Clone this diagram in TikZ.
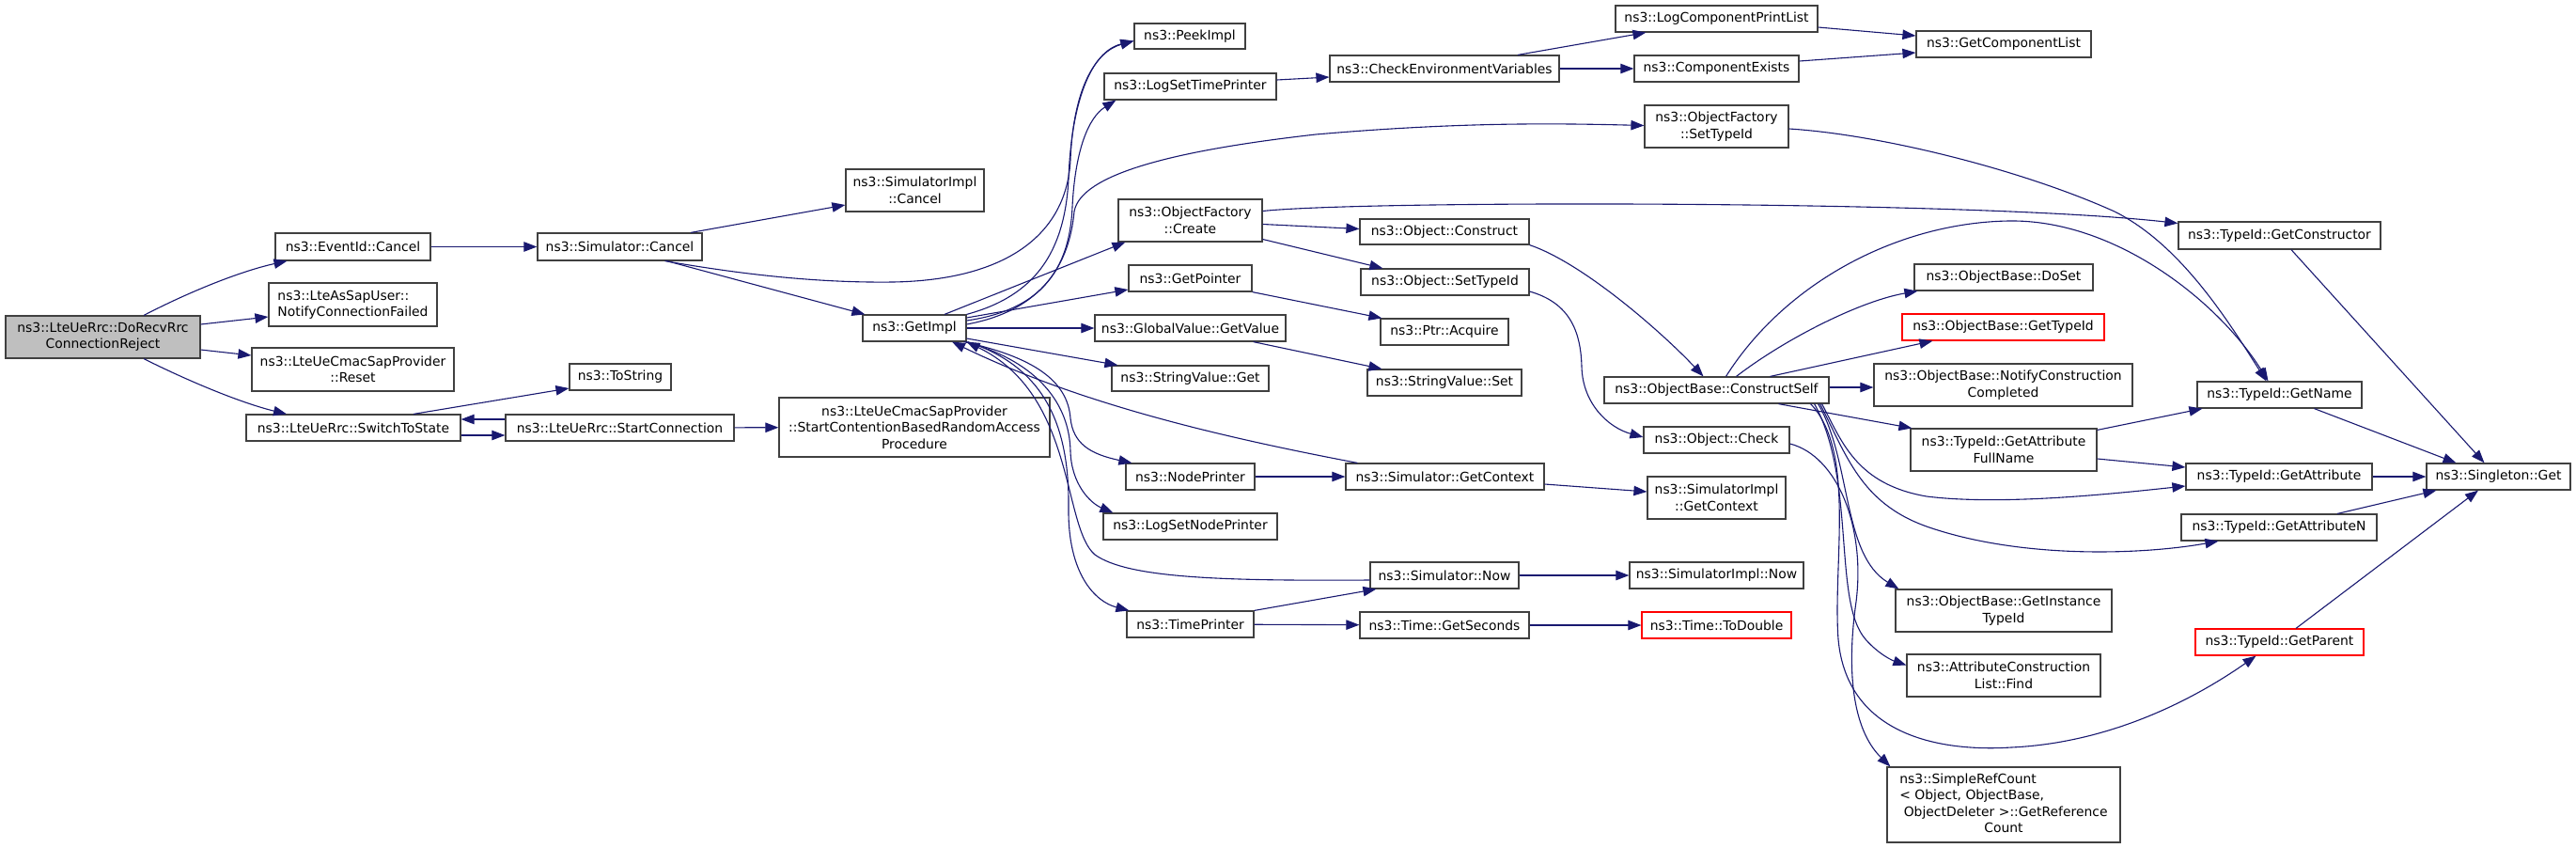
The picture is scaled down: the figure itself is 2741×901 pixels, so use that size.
\documentclass[tikz,border=0pt]{standalone}
\usepackage{fontspec}
\setmainfont{DejaVu Sans}
\usetikzlibrary{arrows.meta,calc}
\definecolor{edgeblue}{RGB}{25,25,112}
\definecolor{rootgray}{RGB}{191,191,191}
\definecolor{nborder}{RGB}{64,64,64}
\newcommand\gnode[7][]{\node[box,#1,minimum width=#5*0.5pt,minimum height=#6*0.5pt] (#2) at (#3,#4) {#7};}
\begin{document}
\begin{tikzpicture}[x=0.5pt,y=-0.5pt,
  box/.style={draw=nborder,line width=0.6pt,fill=white,inner sep=0pt,align=center,font=\fontsize{6.95}{8.7}\selectfont},
  redbox/.style={draw=red},
  rootbox/.style={fill=rootgray},
  call/.style={draw=edgeblue,line width=0.55pt,-{Triangle[length=7pt,width=5.2pt]}}]
\useasboundingbox (0,0) rectangle (2741,901);
% nodes
\gnode[rootbox]{root}{109.5}{358.5}{207}{45}{ns3::LteUeRrc::DoRecvRrc\\ConnectionReject}
\gnode{evcancel}{375.5}{262.5}{165}{29}{ns3::EventId::Cancel}
\gnode[align=left]{asapuser}{375.5}{324}{179}{46}{ns3::LteAsSapUser::\\NotifyConnectionFailed}
\gnode{cmacreset}{375.5}{393}{215}{46}{ns3::LteUeCmacSapProvider\\::Reset}
\gnode{switch}{376}{455}{228}{28}{ns3::LteUeRrc::SwitchToState}
\gnode{simcancel}{659.5}{262.5}{175}{29}{ns3::Simulator::Cancel}
\gnode{simimplcancel}{973.5}{202.5}{147}{45}{ns3::SimulatorImpl\\::Cancel}
\gnode{tostring}{660}{401}{108}{28}{ns3::ToString}
\gnode{startconn}{659.5}{455}{243}{28}{ns3::LteUeRrc::StartConnection}
\gnode{startcont}{973}{454.5}{288}{63}{ns3::LteUeCmacSapProvider\\::StartContentionBasedRandomAccess\\Procedure}
\gnode{peekimpl}{1266}{38.5}{118}{27}{ns3::PeekImpl}
\gnode{logsettime}{1266.5}{92}{183}{28}{ns3::LogSetTimePrinter}
\gnode{getimpl}{973}{349}{110}{28}{ns3::GetImpl}
\gnode{ofcreate}{1266.5}{234.5}{153}{45}{ns3::ObjectFactory\\::Create}
\gnode{getpointer}{1266.5}{296}{131}{28}{ns3::GetPointer}
\gnode{gvgetvalue}{1266.5}{349}{203}{28}{ns3::GlobalValue::GetValue}
\gnode{svget}{1266.5}{402.5}{167}{27}{ns3::StringValue::Get}
\gnode{nodeprinter}{1266.5}{507}{137}{28}{ns3::NodePrinter}
\gnode{logsetnode}{1266.5}{560}{185}{28}{ns3::LogSetNodePrinter}
\gnode{timeprinter}{1266.5}{664}{135}{28}{ns3::TimePrinter}
\gnode{logcomp}{1826.5}{20}{215}{28}{ns3::LogComponentPrintList}
\gnode{checkenv}{1537}{73}{244}{28}{ns3::CheckEnvironmentVariables}
\gnode{compexists}{1826.5}{73}{175}{28}{ns3::ComponentExists}
\gnode{ofsettypeid}{1826.5}{134.5}{153}{45}{ns3::ObjectFactory\\::SetTypeId}
\gnode{objconstruct}{1537}{246.5}{180}{27}{ns3::Object::Construct}
\gnode{objsettypeid}{1537.5}{300}{179}{28}{ns3::Object::SetTypeId}
\gnode{ptracquire}{1537}{353}{136}{28}{ns3::Ptr::Acquire}
\gnode{svset}{1537}{407}{164}{28}{ns3::StringValue::Set}
\gnode{constructself}{1826.5}{415}{239}{28}{ns3::ObjectBase::ConstructSelf}
\gnode{objcheck}{1826.5}{468}{155}{28}{ns3::Object::Check}
\gnode{simgetctx}{1537.5}{507}{211}{28}{ns3::Simulator::GetContext}
\gnode{simimplgetctx}{1826.5}{529.5}{147}{45}{ns3::SimulatorImpl\\::GetContext}
\gnode{simnow}{1537}{612}{158}{28}{ns3::Simulator::Now}
\gnode{simimplnow}{1826.5}{612}{185}{28}{ns3::SimulatorImpl::Now}
\gnode{getseconds}{1537}{665}{180}{28}{ns3::Time::GetSeconds}
\gnode[redbox]{todouble}{1826.5}{665}{159}{28}{ns3::Time::ToDouble}
\gnode{getcomplist}{2132}{47}{186}{28}{ns3::GetComponentList}
\gnode{doset}{2132}{295}{190}{28}{ns3::ObjectBase::DoSet}
\gnode[redbox]{obgettypeid}{2131.5}{348}{215}{28}{ns3::ObjectBase::GetTypeId}
\gnode{notify}{2131.5}{409.5}{275}{45}{ns3::ObjectBase::NotifyConstruction\\Completed}
\gnode{attrfullname}{2132}{478.5}{198}{45}{ns3::TypeId::GetAttribute\\FullName}
\gnode{getinsttypeid}{2132}{649.5}{230}{45}{ns3::ObjectBase::GetInstance\\TypeId}
\gnode{acfind}{2132}{718.5}{206}{45}{ns3::AttributeConstruction\\List::Find}
\gnode{simplerefcount}{2132}{856}{248}{80}{\begin{tabular}{@{}l@{}}ns3::SimpleRefCount\\< Object, ObjectBase,\\\ ObjectDeleter >::GetReference\\\multicolumn{1}{@{}c@{}}{Count}\end{tabular}}
\gnode{getconstructor}{2425.5}{250.5}{215}{29}{ns3::TypeId::GetConstructor}
\gnode{getname}{2425.5}{420}{175}{28}{ns3::TypeId::GetName}
\gnode{getattribute}{2425}{507}{198}{28}{ns3::TypeId::GetAttribute}
\gnode{getattributen}{2425}{561}{208}{28}{ns3::TypeId::GetAttributeN}
\gnode[redbox]{getparent}{2425.5}{683}{179}{28}{ns3::TypeId::GetParent}
\gnode{singleton}{2658.5}{507}{153}{28}{ns3::Singleton::Get}
% edges
\draw[call] ($(root.north)+(43.5,0)$) .. controls (210,306) and (262,287) .. ($(evcancel.south)+(-70,0)$);
\draw[call] ($(root.east)+(0,-13.5)$) -- ($(asapuser.west)+(0,13)$);
\draw[call] ($(root.east)+(0,13.5)$) -- ($(cmacreset.west)+(0,-15)$);
\draw[call] ($(root.south)+(43.5,0)$) .. controls (210,410) and (262,430) .. ($(switch.north)+(-71,0)$);
\draw[call] (evcancel) -- (simcancel);
\draw[call] ($(simcancel.north)+(75.5,0)$) -- ($(simimplcancel.west)+(0,15.5)$);
\draw[call] ($(simcancel.south)+(50,0)$) -- ($(getimpl.north west)+(3,0)$);
\draw[call] ($(simcancel.south)+(48,0)$) .. controls (790,292) and (870,301) .. (950,300) .. controls (1070,298) and (1135,250) .. (1139,170) .. controls (1142,95) and (1165,55) .. ($(peekimpl.west)+(0,5)$);
\draw[call] (getimpl.north east) .. controls (1100,315) and (1133,270) .. (1137,190) .. controls (1140,110) and (1160,55) .. ($(peekimpl.west)+(0,5)$);
\draw[call] ($(getimpl.east)+(0,-8)$) .. controls (1105,330) and (1138,290) .. (1141,220) .. controls (1144,160) and (1158,125) .. ($(logsettime.south west)+(13,0)$);
\draw[call] ($(getimpl.east)+(0,-4)$) .. controls (1110,330) and (1138,280) .. (1143,225) .. controls (1150,185) and (1250,160) .. (1400,143) .. controls (1550,130) and (1650,131) .. ($(ofsettypeid.west)+(0,-1)$);
\draw[call] ($(getimpl.north)+(32,0)$) -- ($(ofcreate.south west)+(8,0)$);
\draw[call] ($(getimpl.east)+(0,-11)$) -- ($(getpointer.west)+(0,12)$);
\draw[call] (getimpl) -- (gvgetvalue);
\draw[call] ($(getimpl.east)+(0,11)$) -- ($(svget.north west)+(7,0)$);
\draw[call] ($(getimpl.south east)+(-3,0)$) .. controls (1100,380) and (1136,405) .. (1139,445) .. controls (1142,472) and (1160,483) .. ($(nodeprinter.north west)+(7,0)$);
\draw[call] ($(getimpl.south east)+(-1,0)$) .. controls (1105,385) and (1138,430) .. (1139,480) .. controls (1140,515) and (1160,535) .. ($(logsetnode.north west)+(11,0)$);
\draw[call] ($(getimpl.south east)+(1,0)$) .. controls (1110,390) and (1138,450) .. (1137,540) .. controls (1136,610) and (1165,640) .. ($(timeprinter.north west)+(3,0)$);
\draw[call] ($(simnow.west)+(0,5)$) .. controls (1300,618) and (1200,615) .. (1165,590) .. controls (1130,560) and (1145,420) .. (getimpl.south east);
\draw[call] ($(simgetctx.north west)+(13,0)$) .. controls (1300,465) and (1150,430) .. ($(getimpl.south)+(40,0)$);
\draw[call] (timeprinter) -- (getseconds);
\draw[call] (timeprinter.north east) -- ($(simnow.south west)+(7,0)$);
\draw[call] (nodeprinter) -- (simgetctx);
\draw[call] (getpointer.south east) -- ($(ptracquire.north west)+(2,0)$);
\draw[call] ($(gvgetvalue.south east)+(-35,0)$) -- ($(svset.north west)+(16,0)$);
\draw[call] ($(logsettime.east)+(0,-7)$) -- ($(checkenv.west)+(0,9)$);
\draw[call] ($(checkenv.north)+(78,0)$) -- ($(logcomp.south west)+(33,0)$);
\draw[call] (checkenv) -- (compexists);
\draw[call] ($(logcomp.east)+(0,9)$) -- ($(getcomplist.west)+(0,-9)$);
\draw[call] ($(compexists.east)+(0,-8)$) -- ($(getcomplist.west)+(0,9)$);
\draw[call] ($(ofcreate.east)+(0,4)$) -- ($(objconstruct.west)+(0,-3)$);
\draw[call] ($(ofcreate.east)+(0,20)$) -- ($(objsettypeid.north west)+(24,0)$);
\draw[call] ($(ofcreate.east)+(0,-10)$) .. controls (1450,213) and (2100,213) .. ($(getconstructor.west)+(0,-13)$);
\draw[call] (objconstruct.south east) .. controls (1685,280) and (1770,355) .. ($(constructself.north)+(-14,0)$);
\draw[call] ($(objsettypeid.east)+(0,10)$) .. controls (1670,322) and (1682,352) .. (1683,390) .. controls (1684,430) and (1712,455) .. ($(objcheck.west)+(0,-3)$);
\draw[call] ($(objcheck.east)+(0,4)$) .. controls (1955,485) and (1985,560) .. (1975,640) .. controls (1965,710) and (1970,775) .. ($(simplerefcount.north west)+(4,0)$);
\draw[call] ($(constructself.south east)+(-12,0)$) .. controls (1970,490) and (1960,590) .. ($(getinsttypeid.north west)+(4,0)$);
\draw[call] ($(constructself.south east)+(-16,0)$) .. controls (1975,510) and (1950,640) .. (1985,680) .. controls (2000,697) and (2015,703) .. ($(acfind.west)+(0,-11)$);
\draw[call] ($(constructself.south east)+(-20,0)$) .. controls (1975,480) and (1950,600) .. (1956,680) .. controls (1965,780) and (2060,800) .. (2140,795) .. controls (2250,790) and (2340,740) .. ($(getparent.south)+(-25,0)$);
\draw[call] ($(constructself.south east)+(-8,0)$) .. controls (1960,470) and (1975,515) .. (2050,528) .. controls (2130,538) and (2250,525) .. ($(getattribute.west)+(0,10)$);
\draw[call] ($(constructself.south east)+(-10,0)$) .. controls (1965,485) and (1980,535) .. (2050,560) .. controls (2150,595) and (2280,590) .. ($(getattributen.south west)+(40,0)$);
\draw[call] ($(constructself.south)+(66,0)$) -- ($(attrfullname.north west)+(2,0)$);
\draw[call] ($(constructself.north)+(21,0)$) .. controls (1900,360) and (1980,320) .. ($(doset.south west)+(4,0)$);
\draw[call] ($(constructself.north)+(57,0)$) -- ($(obgettypeid.south west)+(33,0)$);
\draw[call] ($(constructself.east)+(0,-3)$) -- ($(notify.west)+(0,2.5)$);
\draw[call] ($(constructself.north)+(10,0)$) .. controls (1900,300) and (2020,237) .. (2137,235) .. controls (2250,233) and (2360,320) .. ($(getname.north)+(-12,0)$);
\draw[call] ($(ofsettypeid.east)+(0,2.5)$) .. controls (2000,143) and (2150,180) .. (2250,225) .. controls (2320,260) and (2370,340) .. ($(getname.north)+(-14,0)$);
\draw[call] ($(getconstructor.south)+(12.5,0)$) -- ($(singleton.north)+(-15,0)$);
\draw[call] ($(getname.south)+(37,0)$) -- ($(singleton.north)+(-45,0)$);
\draw[call] ($(attrfullname.north east)+(0,2)$) -- ($(getname.south west)+(6,0)$);
\draw[call] ($(attrfullname.east)+(0,9.5)$) -- ($(getattribute.west)+(0,-10)$);
\draw[call] (getattribute) -- (singleton);
\draw[call] ($(getattributen.north)+(62,0)$) -- ($(singleton.south west)+(11,0)$);
\draw[call] ($(getparent.north)+(17.5,0)$) -- ($(singleton.south)+(-21.5,0)$);
\draw[call] (simnow) -- (simimplnow);
\draw[call] (getseconds) -- (todouble);
\draw[call] ($(simgetctx.east)+(0,8)$) -- ($(simimplgetctx.west)+(0,-6.5)$);
\draw[call] ($(switch.north)+(64,0)$) -- ($(tostring.west)+(0,12)$);
\draw[call] ($(startconn.west)+(0,-9)$) -- ($(switch.east)+(0,-9)$);
\draw[call] ($(switch.east)+(0,8)$) -- ($(startconn.west)+(0,8)$);
\draw[call] (startconn) -- (startcont);
\end{tikzpicture}
\end{document}
